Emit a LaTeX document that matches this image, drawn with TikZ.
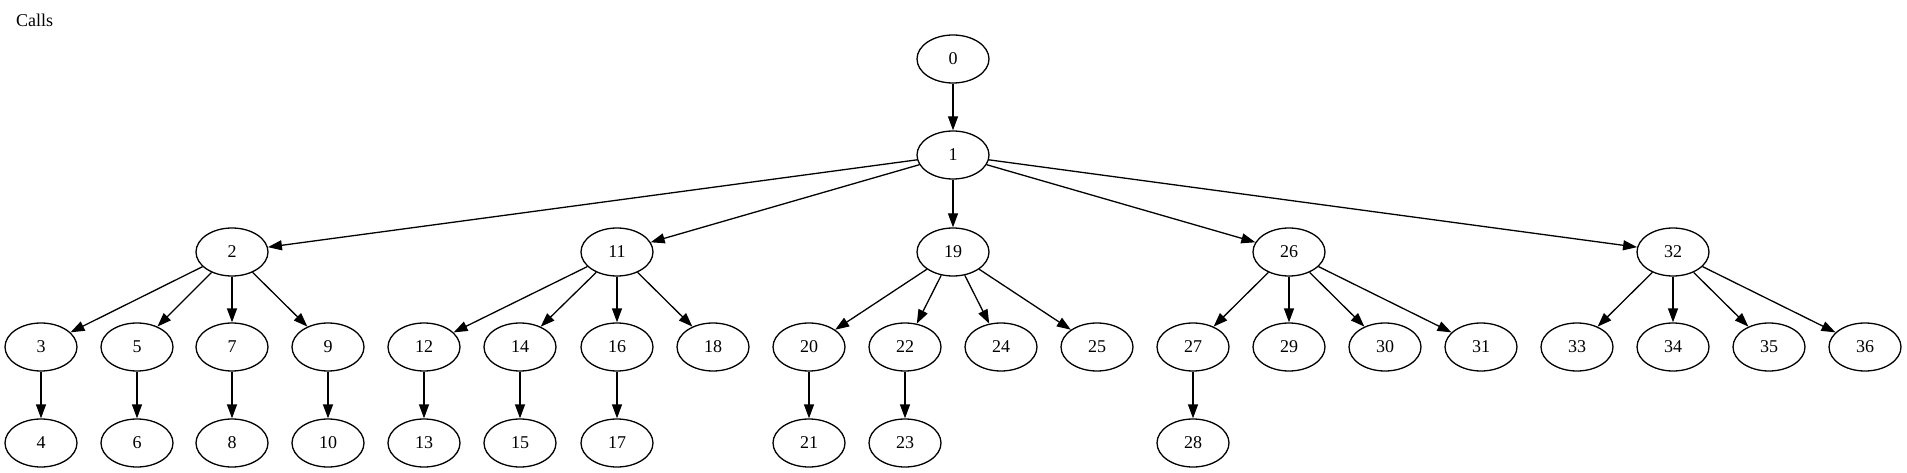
\documentclass[tikz,border=0pt]{standalone}
\usepackage{fontspec}
\setmainfont{Liberation Serif}
\usetikzlibrary{shapes.geometric,arrows.meta}

\begin{document}
\begin{tikzpicture}[x=1pt, y=-1pt,
    call/.style={ellipse, draw, line width=1.3pt, minimum width=72pt, minimum height=48pt, inner sep=0pt, font=\fontsize{18}{20}\selectfont},
    calledge/.style={line width=1.3pt, -{Triangle[length=14pt, width=10pt]}}]
    \useasboundingbox (0,0) rectangle (1907,473);
    \node[anchor=base west, inner sep=0pt, font=\fontsize{18}{20}\selectfont] (title) at (16,27) {Calls};

    % Root
    \node[call] (n0) at (953,59) {0};
    \node[call] (n1) at (953,155) {1};

    % Second row
    \node[call] (n2) at (232,252) {2};
    \node[call] (n11) at (617,252) {11};
    \node[call] (n19) at (953,252) {19};
    \node[call] (n26) at (1289,252) {26};
    \node[call] (n32) at (1673,252) {32};

    % Third row
    \node[call] (n3) at (41,347) {3};
    \node[call] (n5) at (137,347) {5};
    \node[call] (n7) at (232,347) {7};
    \node[call] (n9) at (328,347) {9};
    \node[call] (n12) at (424,347) {12};
    \node[call] (n14) at (520,347) {14};
    \node[call] (n16) at (617,347) {16};
    \node[call] (n18) at (713,347) {18};
    \node[call] (n20) at (809,347) {20};
    \node[call] (n22) at (905,347) {22};
    \node[call] (n24) at (1001,347) {24};
    \node[call] (n25) at (1097,347) {25};
    \node[call] (n27) at (1193,347) {27};
    \node[call] (n29) at (1289,347) {29};
    \node[call] (n30) at (1385,347) {30};
    \node[call] (n31) at (1481,347) {31};
    \node[call] (n33) at (1577,347) {33};
    \node[call] (n34) at (1673,347) {34};
    \node[call] (n35) at (1769,347) {35};
    \node[call] (n36) at (1865,347) {36};

    % Bottom row
    \node[call] (n4) at (41,443) {4};
    \node[call] (n6) at (137,443) {6};
    \node[call] (n8) at (232,443) {8};
    \node[call] (n10) at (328,443) {10};
    \node[call] (n13) at (424,443) {13};
    \node[call] (n15) at (520,443) {15};
    \node[call] (n17) at (617,443) {17};
    \node[call] (n21) at (809,443) {21};
    \node[call] (n23) at (905,443) {23};
    \node[call] (n28) at (1193,443) {28};

    % Calls
    \draw[calledge] (n0) edge (n1);
    \draw[calledge] (n1) edge (n2) edge (n11) edge (n19) edge (n26) edge (n32);
    \draw[calledge] (n2) edge (n3) edge (n5) edge (n7) edge (n9);
    \draw[calledge] (n11) edge (n12) edge (n14) edge (n16) edge (n18);
    \draw[calledge] (n19) edge (n20) edge (n22) edge (n24) edge (n25);
    \draw[calledge] (n26) edge (n27) edge (n29) edge (n30) edge (n31);
    \draw[calledge] (n32) edge (n33) edge (n34) edge (n35) edge (n36);
    \draw[calledge] (n3) edge (n4) (n5) edge (n6) (n7) edge (n8) (n9) edge (n10);
    \draw[calledge] (n12) edge (n13) (n14) edge (n15) (n16) edge (n17);
    \draw[calledge] (n20) edge (n21) (n22) edge (n23) (n27) edge (n28);
\end{tikzpicture}
\end{document}
